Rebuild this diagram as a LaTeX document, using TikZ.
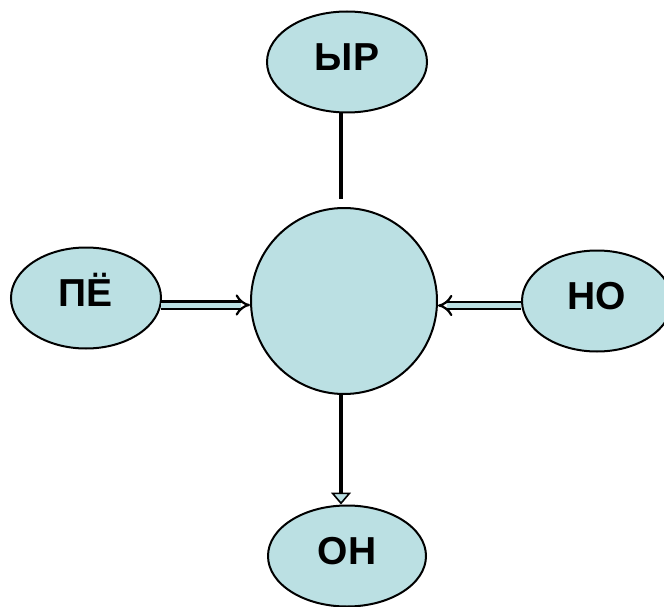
\documentclass[tikz,border=0pt]{standalone}
\usepackage{fontspec}
\setmainfont{Liberation Sans}
\usetikzlibrary{shapes.geometric,arrows.meta,calc}
\definecolor{nodeblue}{RGB}{187,224,227}
\begin{document}
\begin{tikzpicture}[x=1pt,y=-1pt,
  bubble/.style={ellipse,draw=black,line width=2pt,fill=nodeblue,inner sep=0pt,
    minimum width=150pt,minimum height=101pt,
    font=\fontsize{39}{43}\selectfont\bfseries,text height=27pt,text depth=10pt},
  hub/.style={circle,draw=black,line width=2pt,fill=nodeblue,inner sep=0pt,minimum size=186pt},
  vline/.style={line width=3.2pt,draw=black},
  harrow/.style={line width=2.2pt,double=nodeblue,double distance=5pt,-{Implies}}
]
\useasboundingbox (0,0) rectangle (664,607);
\node[hub] (c) at (344,301) {};
\node[bubble,minimum width=160pt] (yr) at (347,62) {ЫР};
\node[bubble] (pe) at (86,298) {ПЁ};
\node[bubble] (no) at (597,301) {НО};
\node[bubble,minimum width=158pt] (on) at (347,556) {ОН};
\draw[vline] ($(yr.south)+(-6,0)$) -- ($(c.north)+(-3,-8)$);
\draw[vline,-{Triangle[width=20pt,length=12pt,line width=1.6pt,fill=nodeblue]}]
  ($(c.south)+(-3,0)$) -- ($(on.north)+(-6,0)$);
\draw[harrow] ($(pe.east)+(-1,7)$) -- ($(c.west)+(0,4)$);
\draw[harrow] ($(no.west)+(0,4.5)$) -- ($(c.east)+(0,4.5)$);
\end{tikzpicture}
\end{document}
